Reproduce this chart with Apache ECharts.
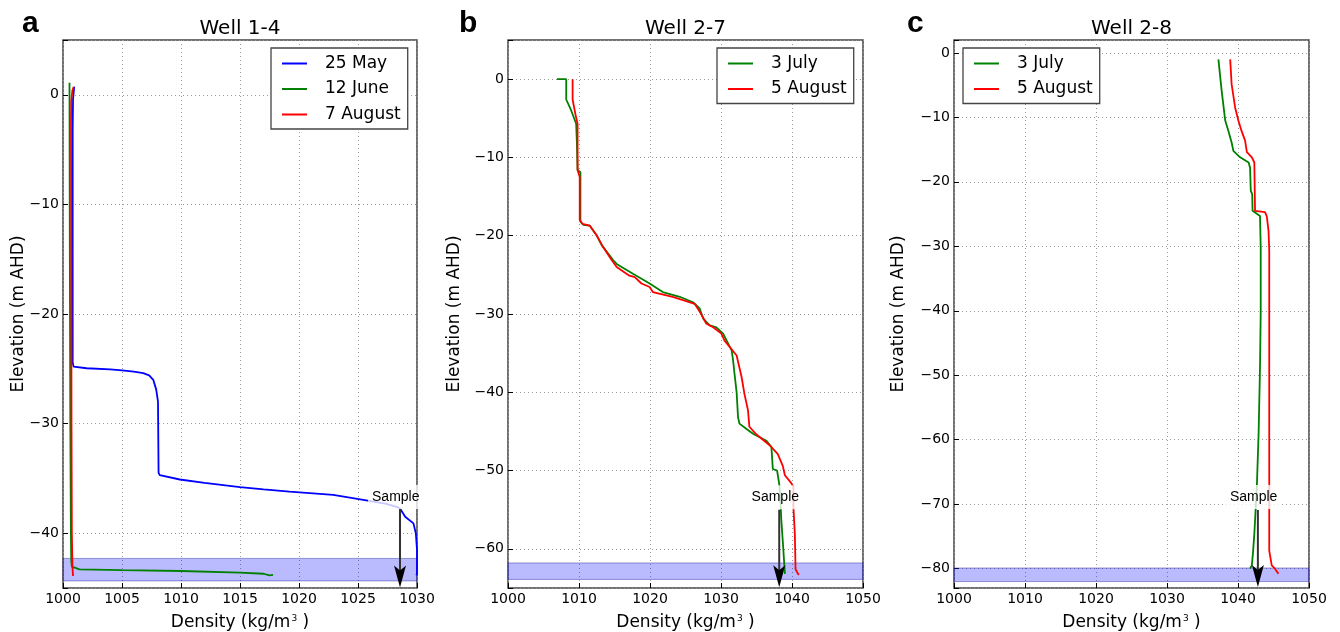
<!DOCTYPE html>
<html><head><meta charset="utf-8">
<script src="https://cdn.jsdelivr.net/npm/echarts@6/dist/echarts.min.js"></script>
<style>html,body{margin:0;padding:0;background:#fff}#c{width:1340px;height:632px}</style>
</head><body><div id="c"></div><script>
// ---------- DATA ----------
const titles = ['Well 1-4', 'Well 2-7', 'Well 2-8'];
const panelLetters = ['a', 'b', 'c'];
const xRanges = [[1000, 1030, 5], [1000, 1050, 10], [1000, 1050, 10]];
const yRanges = [[-45, 5], [-65, 5], [-83, 2]];
const legendA = ['25 May', '12 June', '7 August'];
const legendB = ['3 July', '5 August'];
const legendC = ['3 July', '5 August'];

// [density kg/m3, elevation m AHD]
const wellA_25May = [[1000.95,0.75],[1000.85,-0.4],[1000.82,-3],[1000.82,-24.4],[1000.9,-24.8],[1002,-24.95],[1004,-25.05],[1005,-25.15],[1006,-25.25],[1006.8,-25.4],[1007.3,-25.6],[1007.65,-26.0],[1007.9,-26.9],[1008.05,-28],[1008.1,-34.5],[1008.2,-34.7],[1009.9,-35.1],[1012,-35.4],[1015,-35.8],[1017,-36.0],[1019.2,-36.2],[1022.9,-36.5],[1025.7,-37.0],[1027.3,-37.3],[1028.3,-37.6],[1028.56,-37.75],[1029.0,-38.5],[1029.7,-39.1],[1029.9,-40.0],[1030,-41.5],[1030,-43.7],[1029.95,-43.85]];
const wellA_12June = [[1000.55,1.1],[1000.56,-5],[1000.58,-15],[1000.62,-30],[1000.67,-40],[1000.7,-42.5],[1000.75,-43.05],[1001.4,-43.3],[1005,-43.37],[1010,-43.45],[1015,-43.6],[1017,-43.7],[1017.5,-43.85],[1017.8,-43.8]];
const wellA_7August = [[1000.9,0.7],[1000.8,0.4],[1000.7,-0.5],[1000.68,-2.5],[1000.7,-15],[1000.72,-30],[1000.75,-40],[1000.8,-43],[1000.85,-43.9]];

const wellB_3July = [[1006.9,0],[1008.2,0],[1008.2,-2.6],[1008.9,-4.0],[1009.6,-5.7],[1009.7,-8],[1009.8,-11.6],[1010.2,-11.9],[1010.2,-18.2],[1010.6,-18.6],[1011.5,-18.7],[1012.45,-19.9],[1013.2,-21.2],[1014.8,-23.1],[1015.3,-23.6],[1017.6,-24.85],[1019.95,-26.1],[1021.8,-27.2],[1024.2,-27.8],[1026.05,-28.5],[1027.0,-29.3],[1027.5,-30.6],[1028.4,-31.45],[1029.35,-31.7],[1030.3,-32.5],[1031.5,-34.65],[1031.7,-35.9],[1031.9,-37.6],[1032.2,-40.0],[1032.4,-43.2],[1032.6,-44.0],[1033.6,-44.7],[1034.5,-45.3],[1036.4,-46.2],[1037.1,-47.0],[1037.3,-49.8],[1037.9,-50.0],[1038.2,-51.7],[1038.3,-52.6],[1038.5,-56.4],[1038.7,-59.0],[1039.0,-63.2]];
const wellB_5August = [[1009.1,0],[1009.1,-2.6],[1009.5,-4.5],[1009.8,-5.7],[1009.8,-11.6],[1010.1,-12.5],[1010.1,-18.0],[1010.5,-18.5],[1011.5,-18.7],[1012.45,-19.9],[1013.3,-21.3],[1014.6,-23.1],[1015.3,-24.0],[1017.1,-25.1],[1017.85,-25.3],[1018.8,-26.1],[1019.95,-26.55],[1020.4,-27.2],[1023.2,-27.8],[1026.3,-28.7],[1027.2,-30.0],[1027.9,-31.2],[1028.9,-31.7],[1030.05,-32.5],[1030.5,-33.4],[1032.2,-35.3],[1032.9,-38.05],[1033.3,-40.2],[1033.8,-42.3],[1034.0,-44.4],[1035.0,-45.4],[1036.9,-46.8],[1038.0,-47.9],[1038.7,-49.4],[1039.0,-50.6],[1039.9,-51.6],[1040.2,-52.1],[1040.2,-54.7],[1040.4,-58.1],[1040.5,-62.6],[1040.85,-63.2],[1041.0,-63.3]];

const wellC_3July = [[1037.24,-1.0],[1037.7,-5.9],[1038.2,-10.5],[1038.65,-12.1],[1039.1,-13.9],[1039.35,-15.2],[1040.3,-16.2],[1041.5,-17.0],[1041.7,-17.8],[1041.8,-21.4],[1042.0,-21.9],[1042.05,-24.5],[1043.1,-25.3],[1043.2,-30.2],[1043.2,-40.1],[1043.1,-48.8],[1042.9,-59.1],[1042.65,-67.4],[1042.3,-74.6],[1042.1,-77.7],[1041.95,-79.5],[1041.7,-80.0]];
const wellC_5August = [[1038.9,-1.0],[1039.1,-4.85],[1039.6,-8.5],[1040.05,-10.5],[1040.5,-12.1],[1041.0,-13.6],[1041.25,-15.4],[1041.95,-16.2],[1042.3,-17.0],[1042.4,-24.5],[1043.8,-24.7],[1044.05,-25.3],[1044.3,-27.6],[1044.4,-30.7],[1044.4,-77.2],[1044.75,-79.5],[1045.2,-80.0],[1045.7,-80.8]];

// sample screen interval bands [top, bottom] elevation
const bands = [[-42.3, -44.35], [-61.8, -63.9], [-79.9, -82.0]];
// sample arrows: [density, start elevation, tip elevation]
const arrows = [[1028.56, -37.8, -44.95], [1038.2, -55.0, -64.9], [1042.8, -70.9, -82.85]];
// sample labels: [density, elevation]
const sampleLabels = [[1028.2, -36.7], [1037.65, -53.4], [1042.2, -68.9]];

// ---------- CHART ----------
const FONT = 'DejaVu Sans';
const grids = [
  {left: 63, top: 40, width: 354, height: 548},
  {left: 508, top: 40, width: 355, height: 548},
  {left: 954, top: 40, width: 355, height: 548}
];
const yNameGaps = [36, 45, 47];
const splitNums = [5, 7, 8];
const fmtMinus = v => String(v).replace('-', '\u2212');

const xAxes = xRanges.map((r, i) => ({
  type: 'value', gridIndex: i, min: r[0], max: r[1], interval: r[2],
  axisLine: {show: false, onZero: false},
  axisTick: {show: true, inside: true, length: 5, lineStyle: {color: '#000'}},
  axisLabel: {fontSize: 14, fontFamily: FONT, color: '#000', margin: 4, formatter: v => String(v)},
  splitLine: {show: true, lineStyle: {type: [1, 3], color: '#9a9a9a', width: 1}},
  name: '{a|Density (kg/m}{s|3}{a| )}', nameLocation: 'middle', nameGap: 26, nameMoveOverlap: false,
  nameTextStyle: {rich: {
    a: {fontSize: 17, fontFamily: FONT, color: '#000'},
    s: {fontSize: 9, fontFamily: FONT, color: '#000', verticalAlign: 'top', padding: [0, 0, 6, 1]}
  }}
}));
const yAxes = yRanges.map((r, i) => ({
  type: 'value', gridIndex: i, min: r[0], max: r[1], splitNumber: splitNums[i],
  axisLine: {show: false, onZero: false},
  axisTick: {show: true, inside: true, length: 5, lineStyle: {color: '#000'}},
  axisLabel: {fontSize: 14, fontFamily: FONT, color: '#000', margin: 4,
    formatter: v => (Math.abs(v % 10) < 1e-9 ? fmtMinus(v) : '')},
  splitLine: {show: true, lineStyle: {type: [1, 3], color: '#9a9a9a', width: 1}},
  name: 'Elevation (m AHD)', nameLocation: 'middle', nameGap: yNameGaps[i], nameMoveOverlap: false,
  nameTextStyle: {fontSize: 17, fontFamily: FONT, color: '#000'}
}));

const colors = {blue: '#0000ff', green: '#008000', red: '#ff0000'};
function lineSeries(name, data, idx, color) {
  return {type: 'line', name, data, xAxisIndex: idx, yAxisIndex: idx, showSymbol: false,
    symbol: 'none', color, lineStyle: {width: 1.8, color}, z: 3, animation: false, silent: true};
}

const series = [];
for (let i = 0; i < 3; i++) {
  // band + arrow shaft
  series.push({
    type: 'line', name: '_shaft' + i, xAxisIndex: i, yAxisIndex: i,
    data: [[arrows[i][0], arrows[i][1]], [arrows[i][0], arrows[i][2] + 1.2]],
    showSymbol: false, symbol: 'none', lineStyle: {width: 2, color: '#333'}, z: 4, animation: false, silent: true,
    markArea: {silent: true, itemStyle: {color: 'rgba(0,0,255,0.27)', borderColor: 'rgba(40,40,160,0.45)', borderWidth: 1},
      data: [[{yAxis: bands[i][0]}, {yAxis: bands[i][1]}]]}
  });
}
series.push(lineSeries('25 May', wellA_25May, 0, colors.blue));
series.push(lineSeries('12 June', wellA_12June, 0, colors.green));
series.push(lineSeries('7 August', wellA_7August, 0, colors.red));
series.push(lineSeries('3 July', wellB_3July, 1, colors.green));
series.push(lineSeries('5 August', wellB_5August, 1, colors.red));
series.push(lineSeries('3 July', wellC_3July, 2, colors.green));
series.push(lineSeries('5 August', wellC_5August, 2, colors.red));
for (let i = 0; i < 3; i++) {
  // arrow head + sample label
  series.push({
    type: 'scatter', name: '_head' + i, xAxisIndex: i, yAxisIndex: i,
    data: [[arrows[i][0], arrows[i][2]]],
    symbol: 'path://M6,22 L0,0 L6,5 L12,0 Z', symbolSize: [12, 22], symbolOffset: [0, '-50%'],
    itemStyle: {color: '#000', opacity: 1}, z: 6, animation: false, silent: true, clip: false,
    markPoint: {
      silent: true, animation: false, symbol: 'rect', symbolSize: 1,
      itemStyle: {color: 'rgba(255,255,255,0)'},
      label: {show: true, position: 'inside', formatter: 'Sample', fontSize: 14, fontFamily: 'Liberation Sans',
        color: '#000', opacity: 1, backgroundColor: 'rgba(255,255,255,0.78)', padding: [5, 4, 5, 4]},
      data: [{coord: sampleLabels[i]}]
    }
  });
}

const legendBase = {
  orient: 'vertical', icon: 'rect', itemWidth: 25, itemHeight: 2, itemGap: 8.5,
  borderColor: '#444', borderWidth: 1.3, borderRadius: 0, padding: [7, 7, 6, 11],
  backgroundColor: '#fff', selectedMode: false,
  textStyle: {fontSize: 17, fontFamily: FONT, color: '#000', padding: [0, 0, 0, 13]}
};
const legends = [
  Object.assign({}, legendBase, {left: 271, top: 48, data: legendA}),
  Object.assign({}, legendBase, {left: 717, top: 48, data: legendB}),
  Object.assign({}, legendBase, {left: 963, top: 48, data: legendC})
];

const titleCenters = [240, 685.5, 1131.5];
const letterX = [22, 459, 907];
const graphics = [];
for (let i = 0; i < 3; i++) {
  graphics.push({type: 'text', x: titleCenters[i], y: 29, style: {
    text: titles[i], font: '20px "DejaVu Sans"', fill: '#000', align: 'center', verticalAlign: 'middle'}});
  graphics.push({type: 'text', x: letterX[i], y: 39, style: {
    text: panelLetters[i], font: 'bold 30px "Liberation Sans"', fill: '#000', align: 'left', verticalAlign: 'bottom'}});
}

const chart = echarts.init(document.getElementById('c'), null, {renderer: 'canvas'});
chart.setOption({
  animation: false,
  backgroundColor: '#fff',
  grid: grids.map(g => Object.assign({show: true, borderColor: '#444', borderWidth: 1.5, backgroundColor: 'transparent',
    containLabel: false, outerBoundsMode: 'none'}, g)),
  xAxis: xAxes,
  yAxis: yAxes,
  legend: legends,
  series,
  graphic: graphics
});
</script></body></html>
